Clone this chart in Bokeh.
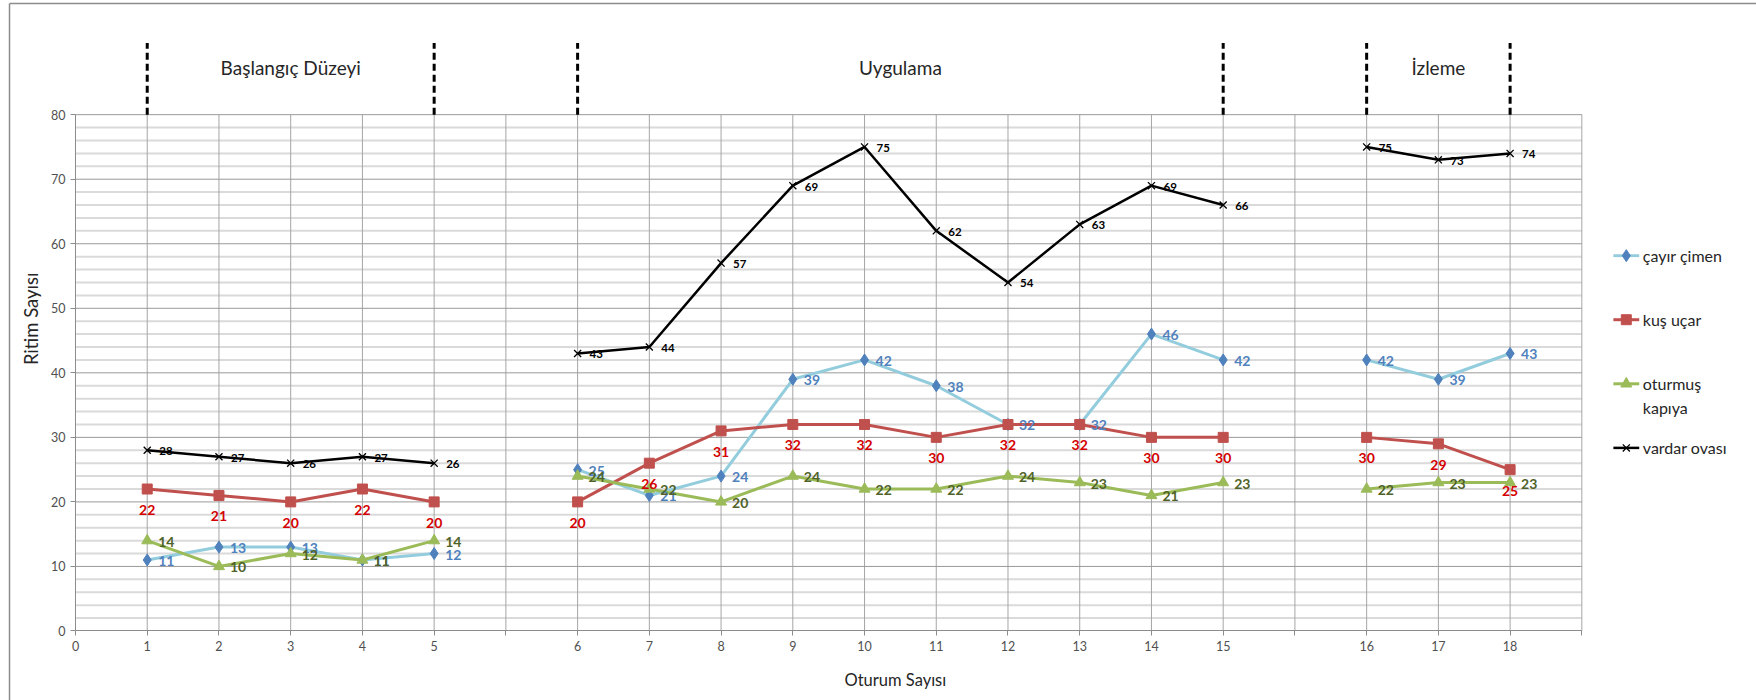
import math

import numpy as np
from bokeh.core.properties import value
from bokeh.embed import file_html
from bokeh.models import Arrow, ColumnDataSource, FixedTicker, Label, Range1d
from bokeh.plotting import figure
from bokeh.resources import INLINE

# ---------------------------------------------------------------- data
baseline_sessions = [1, 2, 3, 4, 5]
treatment_sessions = [6, 7, 8, 9, 10, 11, 12, 13, 14, 15]
followup_sessions = [16, 17, 18]
phase_names = ["Başlangıç Düzeyi", "Uygulama", "İzleme"]

series_names = ["çayır çimen", "kuş uçar", "oturmuş kapıya", "vardar ovası"]
cayir_cimen = [11, 13, 13, 11, 12, 25, 21, 24, 39, 42, 38, 32, 32, 46, 42, 42, 39, 43]
kus_ucar = [22, 21, 20, 22, 20, 20, 26, 31, 32, 32, 30, 32, 32, 30, 30, 30, 29, 25]
oturmus_kapiya = [14, 10, 12, 11, 14, 24, 22, 20, 24, 22, 22, 24, 23, 21, 23, 22, 23, 23]
vardar_ovasi = [28, 27, 26, 27, 26, 43, 44, 57, 69, 75, 62, 54, 63, 69, 66, 75, 73, 74]

y_ticks = [0, 10, 20, 30, 40, 50, 60, 70, 80]
y_minor_step = 2

x_title = "Oturum Sayısı"
y_title = "Ritim Sayısı"

# ------------------------------------------------- category slots on x
# slot 0 carries the "0" label, every phase is followed by one empty slot
phases = [baseline_sessions, treatment_sessions, followup_sessions]
slot_of = {}
slot_labels = {0: "0"}
phase_slots = []
pos = 1
for ph in phases:
    first = pos
    for s in ph:
        slot_of[s] = pos
        slot_labels[pos] = str(s)
        pos += 1
    phase_slots.append((first, pos - 1))
    pos += 1
x_end = pos - 1            # right edge of the plotting area
y_top = y_ticks[-1]


def phase_xy(values):
    xs, ys = [], []
    for k, ph in enumerate(phases):
        if k:
            xs.append(np.nan)
            ys.append(np.nan)
        for s in ph:
            xs.append(slot_of[s])
            ys.append(values[s - 1])
    return xs, ys


# ------------------------------------------------------------- figure
# the frame covers the whole canvas; the axes sit at fixed data locations
W, H = 1756, 700
p = figure(
    width=W, height=H,
    x_range=Range1d(-1.0456, 23.435), y_range=Range1d(-10.77, 97.69),
    output_backend="svg", toolbar_location=None,
)
p.min_border = 0
p.min_border_left = 0
p.min_border_right = 0
p.min_border_top = 0
p.min_border_bottom = 0
p.grid.visible = False
p.outline_line_color = None
p.background_fill_color = "white"
p.border_fill_color = "white"

# axes
p.xaxis.ticker = FixedTicker(ticks=list(range(0, x_end + 1)), minor_ticks=[])
p.xaxis.major_label_overrides = {i: slot_labels.get(i, "") for i in range(0, x_end + 1)}
p.xaxis.bounds = (0, x_end)
p.xaxis.fixed_location = 0
p.yaxis.ticker = FixedTicker(ticks=y_ticks, minor_ticks=[])
p.yaxis.bounds = (0, y_top)
p.yaxis.fixed_location = 0
for ax in (p.xaxis[0], p.yaxis[0]):
    ax.axis_line_color = "#8c8c8c"
    ax.axis_line_width = 1
    ax.major_tick_line_color = "#8c8c8c"
    ax.major_tick_out = 5
    ax.major_tick_in = 0
    ax.minor_tick_line_color = None
    ax.major_label_text_font = "Lato"
    ax.major_label_text_font_size = "12.5px"
    ax.major_label_text_color = "#505050"
    ax.major_label_standoff = 5

# chart area border (left and top edges)
p.segment(x0=-0.92, x1=-0.92, y0=-10.77, y1=97.23, line_color="#8c8c8c", line_width=1.5)
p.segment(x0=-0.92, x1=23.435, y0=97.23, y1=97.23, line_color="#8c8c8c", line_width=1.5)

# gridlines, confined to the plotting area
minor_y = [v for v in range(0, y_top + 1, y_minor_step) if v % 10 != 0]
major_y = [v for v in y_ticks if v > 0]
vert_x = list(range(1, x_end + 1))
p.segment(x0=0, x1=x_end, y0=minor_y, y1=minor_y, line_color="#dadada", line_width=2)
p.segment(x0=vert_x, x1=vert_x, y0=0, y1=y_top, line_color="#a6a6a6", line_width=1)
p.segment(x0=0, x1=x_end, y0=major_y, y1=major_y, line_color="#9a9a9a", line_width=1)

# --------------------------------------------------------------- series
styles = [
    dict(line="#93cddd", lw=3, marker="diamond", fill="#4f81bd", size=12, mlw=1,
         label="#4f81bd", fsize="14px", align="left", dx=11, dy=1),
    dict(line="#c0504d", lw=3, marker="square", fill="#c0504d", size=10, mlw=1,
         label="#d40000", fsize="14px", align="center", dx=0, dy=21),
    dict(line="#9bbb59", lw=3, marker="triangle", fill="#9bbb59", size=11, mlw=1,
         label="#4f6228", fsize="14px", align="left", dx=11, dy=1),
    dict(line="#000000", lw=2.5, marker="x", fill="#000000", size=10, mlw=1.3,
         label="#000000", fsize="11.5px", align="left", dx=12, dy=1),
]
all_values = [cayir_cimen, kus_ucar, oturmus_kapiya, vardar_ovasi]

for vals, st in zip(all_values, styles):
    xs, ys = phase_xy(vals)
    p.line(xs, ys, line_color=st["line"], line_width=st["lw"])
    p.scatter(xs, ys, marker=st["marker"], size=st["size"],
              fill_color=st["fill"], line_color=st["fill"], line_width=st["mlw"])

for vals, st in zip(all_values, styles):
    xs, ys = phase_xy(vals)
    pts = [(x, y) for x, y in zip(xs, ys) if not np.isnan(x)]
    src = ColumnDataSource(dict(
        x=[a for a, _ in pts], y=[b for _, b in pts],
        t=[str(int(b)) for _, b in pts],
    ))
    p.text(x="x", y="y", text="t", source=src,
           x_offset=st["dx"], y_offset=st["dy"],
           text_align=st["align"], text_baseline="middle",
           text_color=st["label"], text_font=value("Lato"),
           text_font_style="bold", text_font_size=st["fsize"])

# --------------------------------------------------------------- legend
leg_x0, leg_x1, leg_xm, leg_tx = 21.44, 21.80, 21.62, 21.85
leg_y0, leg_step, leg_line = 58.16, 9.93, 3.72
for i, (name, st) in enumerate(zip(series_names, styles)):
    ly = leg_y0 - i * leg_step
    p.segment(x0=leg_x0, x1=leg_x1, y0=ly, y1=ly, line_color=st["line"], line_width=st["lw"])
    p.scatter([leg_xm], [ly], marker=st["marker"], size=st["size"],
              fill_color=st["fill"], line_color=st["fill"], line_width=st["mlw"])
    lines = name.split(" ") if len(name) > 12 else [name]
    p.text(x=[leg_tx] * len(lines), y=[ly - k * leg_line for k in range(len(lines))],
           text=lines, text_align="left", text_baseline="middle",
           text_color="#262626", text_font=value("Lato"), text_font_size="16px")

# ------------------------------------------------ phase markers on top
top_dash = 91.1
dash_x = [s for pair in phase_slots for s in pair]
dash_src = ColumnDataSource(dict(x=dash_x, y0=[y_top] * len(dash_x), y1=[top_dash] * len(dash_x)))
p.add_layout(Arrow(x_start="x", y_start="y0", x_end="x", y_end="y1", end=None,
                   source=dash_src, line_color="black", line_width=3, line_dash="7 4"))
for name, (a, b) in zip(phase_names, phase_slots):
    p.add_layout(Label(x=(a + b) / 2, y=87.3, text=name, text_align="center",
                       text_baseline="middle", text_font="Lato", text_font_size="19px",
                       text_color="#262626"))

# axis titles
p.text(x=[11.43], y=[-7.6], text=[x_title], text_align="center", text_baseline="middle",
       text_font=value("Lato"), text_font_size="16.5px", text_color="#262626")
# vertical title starts at its lower end and runs upwards
p.text(x=[-0.6176], y=[41.2], text=[y_title], angle=math.pi / 2, text_align="left",
       text_baseline="middle", text_font=value("Lato"), text_font_size="18.5px",
       text_color="#262626")

open("out.html", "w").write(file_html(p, INLINE))
